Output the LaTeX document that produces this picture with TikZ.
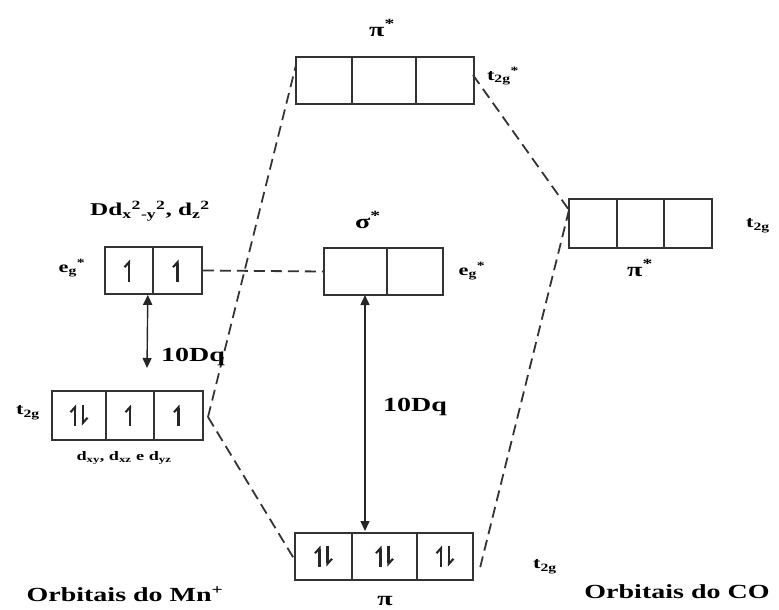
\documentclass[tikz,border=0pt]{standalone}
\usepackage{fontspec}
\setmainfont{Liberation Serif}[FakeStretch=1.4]
\usetikzlibrary{arrows.meta,calc}
\begin{document}
\begin{tikzpicture}[x=1pt,y=-1pt,
  cell/.style={draw=black!80, line width=1.6pt, inner sep=0pt, minimum height=47pt},
  dashline/.style={draw=black!80, line width=1.8pt, dash pattern=on 11pt off 6pt},
  spin/.style={line width=2.1pt, black!85, -{Straight Barb[left,length=5pt,width=9pt]}},
  gap/.style={line width=1.4pt, black!85, {Triangle[length=10pt,width=9pt]}-{Triangle[length=10pt,width=9pt]}},
  lbl/.style={font=\fontsize{20}{22}\selectfont\bfseries, inner sep=0pt},
  mid/.style={font=\fontsize{18}{20}\selectfont\bfseries, inner sep=0pt},
  sml/.style={font=\fontsize{16}{18}\selectfont\bfseries, inner sep=0pt}]
\useasboundingbox (0,0) rectangle (779,610);

% top pi* box
\node[cell, minimum width=56pt] (T1) at (324,80.5) {};
\node[cell, minimum width=64pt] (T2) at (384,80.5) {};
\node[cell, minimum width=58pt] (T3) at (445,80.5) {};
% right pi* box (CO)
\node[cell, minimum width=48pt, minimum height=49pt] (R1) at (593,223.5) {};
\node[cell, minimum width=47pt, minimum height=49pt] (R2) at (640.5,223.5) {};
\node[cell, minimum width=48pt, minimum height=49pt] (R3) at (688,223.5) {};
% sigma* box
\node[cell, minimum width=63pt] (S1) at (355.5,271.5) {};
\node[cell, minimum width=56pt] (S2) at (415,271.5) {};
% left eg* box
\node[cell, minimum width=48pt] (E1) at (129,270.5) {};
\node[cell, minimum width=49pt] (E2) at (177.5,270.5) {};
% left t2g box
\node[cell, minimum width=54pt, minimum height=49pt] (L1) at (79,415.5) {};
\node[cell, minimum width=48pt, minimum height=49pt] (L2) at (130,415.5) {};
\node[cell, minimum width=49pt, minimum height=49pt] (L3) at (178.5,415.5) {};
% bottom pi box
\node[cell, minimum width=57pt] (B1) at (323.5,556.5) {};
\node[cell, minimum width=65pt] (B2) at (384.5,556.5) {};
\node[cell, minimum width=56pt] (B3) at (445,556.5) {};

% electrons
\draw[spin] ($(E1.center)+(0,11)$) -- ++(0,-22);
\draw[spin] ($(E2.center)+(0,11)$) -- ++(0,-22);
\draw[spin] ($(L1.center)+(-4,10)$) -- ++(0,-21);
\draw[spin] ($(L1.center)+(4,-11)$) -- ++(0,21);
\draw[spin] ($(L2.center)+(0,10)$) -- ++(0,-21);
\draw[spin] ($(L3.center)+(0,10)$) -- ++(0,-21);
\foreach \c in {B1,B2,B3}{
  \draw[spin] ($(\c.center)+(-4,10)$) -- ++(0,-21);
  \draw[spin] ($(\c.center)+(4,-11)$) -- ++(0,21);
}

% connector end points
\coordinate (Lt) at (208,417);
\coordinate (Tl) at (296,65);
\coordinate (Bl) at (296,562);
\coordinate (Tr) at (473,75);
\coordinate (Rl) at (569,210);
\coordinate (Br) at (480,568);

\draw[dashline] (E2.east) -- (S1.west);
\draw[dashline] (Lt) -- (Tl);
\draw[dashline] (Lt) -- (Bl);
\draw[dashline] (Tr) -- (Rl);
\draw[dashline] (Rl) -- (Br);

% 10Dq arrows
\coordinate (la) at ($(E1.south east)+(-6,0)$);
\coordinate (lb) at (147,368);
\draw[gap] (la) -- (lb);
\coordinate (ca) at (365,295);
\coordinate (cb) at (365,531);
\draw[gap] (ca) -- (cb);

% labels
\node[lbl] (piT) at (382,28) {π\textsuperscript{*}};
\node[sml] (t2gT) at (503,76) {t\textsubscript{2g}\textsuperscript{*}};
\node[lbl] (sig) at (368,220) {σ\textsuperscript{*}};
\node[sml] (egR) at (472,271) {e\textsubscript{g}\textsuperscript{*}};
\node[sml] (egL) at (72,268) {e\textsubscript{g}\textsuperscript{*}};
\node[mid] (dd) at (150,211) {Dd\textsubscript{x}\textsuperscript{2}\textsubscript{-y}\textsuperscript{2}, d\textsubscript{z}\textsuperscript{2}};
\node[lbl] (dqL) at (193,357) {10Dq};
\node[lbl] (dqC) at (415,407) {10Dq};
\node[sml] (t2gL) at (28,413) {t\textsubscript{2g}};
\node[font=\fontsize{13}{15}\selectfont\bfseries, inner sep=0pt] (dxy) at (124,458) {d\textsubscript{xy}, d\textsubscript{xz} e d\textsubscript{yz}};
\node[sml] (t2gR) at (758,226) {t\textsubscript{2g}};
\node[lbl] (piR) at (640,268) {π\textsuperscript{*}};
\node[sml] (t2gB) at (545,567) {t\textsubscript{2g}};
\node[lbl] (piB) at (385,601) {π};
\node[lbl] (mn) at (125,594) {Orbitais do Mn\textsuperscript{+}};
\node[lbl] (co) at (677,592) {Orbitais do CO};
\end{tikzpicture}
\end{document}
